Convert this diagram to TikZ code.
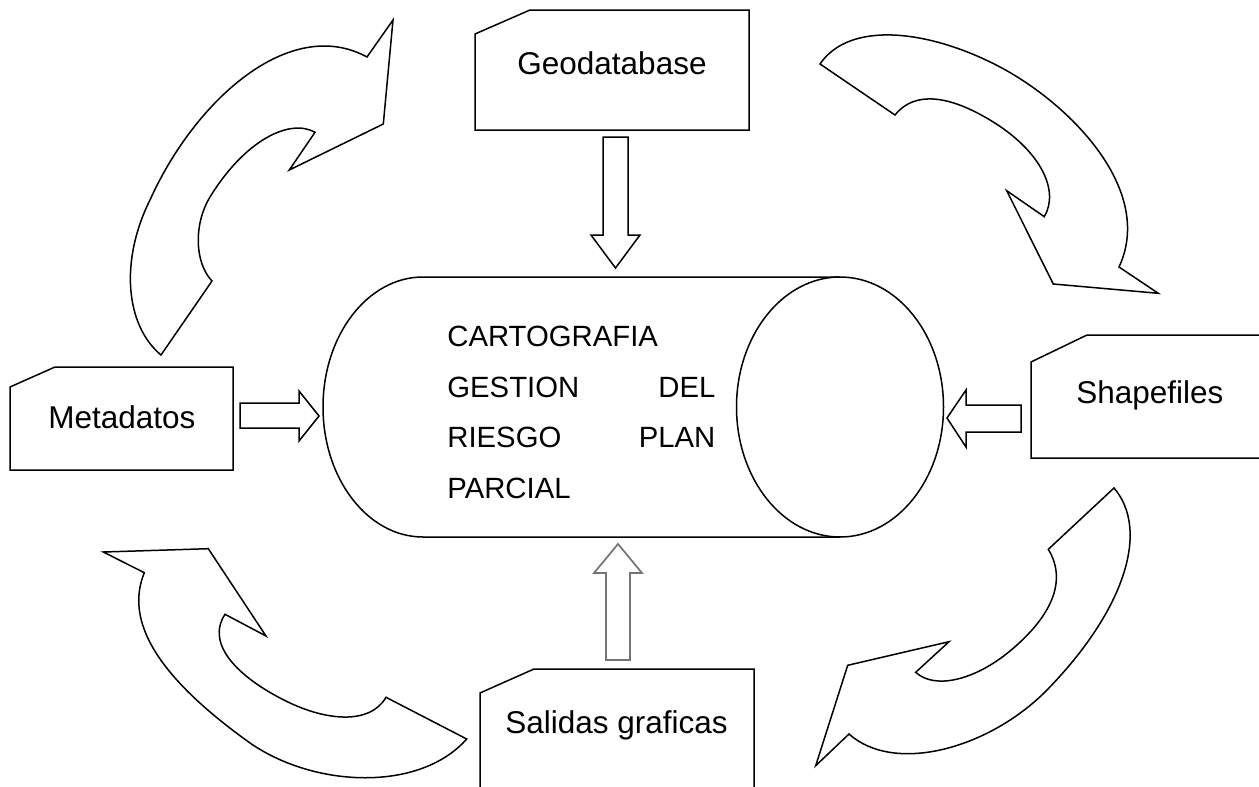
\documentclass[tikz,border=0pt]{standalone}
\usepackage{fontspec}
\setmainfont{Liberation Sans}

\begin{document}
\begin{tikzpicture}[x=0.5pt, y=-0.5pt, line join=miter, outline/.style={draw, line width=0.75pt}, paleoutline/.style={draw=black!55, line width=0.85pt}, docname/.style={anchor=base west, inner sep=0pt, font=\fontsize{15.75}{19}\selectfont}, bodytext/.style={anchor=north west, inner sep=0pt, text width=134pt, font=\fontsize{14.65}{25.25}\selectfont}]

		\useasboundingbox (0,0) rectangle (1259,787);

		\draw[outline] (475,34) -- (530,10) -- (749,10) -- (749,130) -- (475,130) -- cycle;
		\draw[outline] (10,387) -- (55,367) -- (233,367) -- (233,470) -- (10,470) -- cycle;
		\draw[outline] (1259,458) -- (1031,458) -- (1031,362) -- (1087,335) -- (1259,335);
		\draw[outline] (480,787) -- (480,693) -- (534,669) -- (754,669) -- (754,787);

		\node[docname] (geo) at (517,74) {Geodatabase};
		\node[docname] (meta) at (48,428) {Metadatos};
		\node[docname] (shp) at (1076,403) {Shapefiles};
		\node[docname] (salidas) at (505,733) {Salidas graficas};

		\draw[outline] (840,277) -- (423,277) arc [start angle=90, end angle=270, x radius=50pt, y radius=65pt] -- (840,537);
		\draw[outline] (840,407) ellipse [x radius=51.75pt, y radius=65pt];
		\node[bodytext] (tema) at (447,326) {CARTOGRAFIA\\GESTION\hfill DEL\\RIESGO\hfill PLAN\\PARCIAL};

		\draw[outline] (603,137) -- (628,137) -- (628,235) -- (640,235) -- (615.5,268) -- (591,235) -- (603,235) -- cycle;
		\draw[outline] (240,403) -- (299,403) -- (299,391) -- (319,416) -- (299,441) -- (299,428) -- (240,428) -- cycle;
		\draw[outline] (1021,405) -- (966,405) -- (966,390) -- (947,418) -- (966,447) -- (966,432) -- (1021,432) -- cycle;
		\draw[paleoutline] (606,660) -- (606,573) -- (594,573) -- (618,544) -- (642,573) -- (630,573) -- (630,660) -- cycle;

		\draw[outline] (161,355) .. controls (125,325) and (120,260) .. (150,200) .. controls (195,100) and (290,15) .. (367,57)
				-- (393,20) -- (383.3,124) -- (289.3,170) -- (315,132.3)
				.. controls (290,118) and (245,140) .. (210,197) .. controls (194,223) and (194,262) .. (212,281) -- cycle;
		\draw[outline] (820,64) .. controls (850,20) and (930,30) .. (1000,67) .. controls (1070,104) and (1155,190) .. (1119,267)
				-- (1158.3,293.3) -- (1053.3,284) -- (1006.7,190.7) -- (1044.3,216.7)
				.. controls (1060,190) and (1040,150) .. (990,120) .. controls (950,96) and (915,90) .. (895,115) -- cycle;
		\draw[outline] (1114,488) .. controls (1150,530) and (1125,610) .. (1047,690) .. controls (990,748) and (895,775) .. (849,734)
				-- (815.7,765.7) -- (847.7,665.3) -- (949,641.7) -- (915.7,672.3)
				.. controls (935,690) and (975,680) .. (1010,651) .. controls (1045,622) and (1070,585) .. (1048.3,549.3) -- cycle;
		\draw[outline] (144.3,572.7) .. controls (125,620) and (155,675) .. (250,743) .. controls (315,788) and (420,792) .. (466.7,739)
				-- (386,697.3)
				.. controls (370,725) and (325,722) .. (280,698) .. controls (240,677) and (205,645) .. (225,614.3)
				-- (266,636) -- (208.3,548.7) -- (103.3,552) -- cycle;

		\end{tikzpicture}
\end{document}
